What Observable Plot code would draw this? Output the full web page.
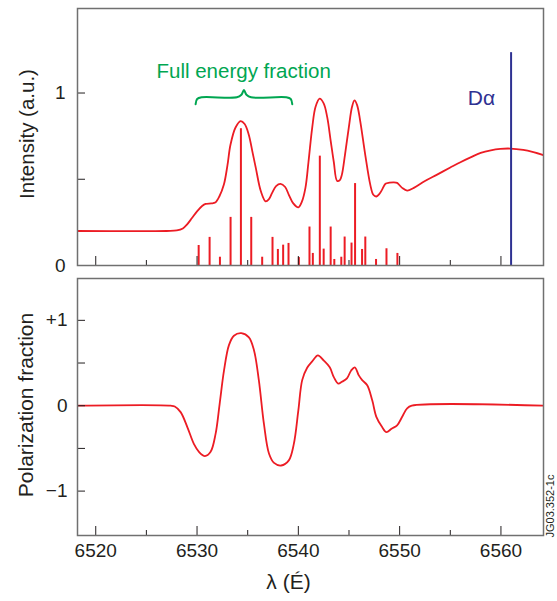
<!DOCTYPE html>
<html><head><meta charset="utf-8">
<script src="https://cdn.jsdelivr.net/npm/d3@7"></script>
<script src="https://cdn.jsdelivr.net/npm/@observablehq/plot@0.6"></script>
<style>
body{margin:0;background:#fff;}
#chart{width:557px;}
#chart svg{display:block;}
</style></head><body><div id="chart"></div>
<script>
// ---------- data ----------
const wavelengthDomain = [6518.2, 6564.2];
const xMajorTicks = [6520, 6530, 6540, 6550, 6560];
const xMinorTicks = [6525, 6535, 6545, 6555];
const intensityDomain = [0, 1.49];
const intensityTicks = [0.5, 1];
const intensityTickLabels = [0, 1];
const polarizationDomain = [-1.52, 1.49];
const polarizationTicks = [-1, -0.5, 0, 0.5, 1];
const polarizationTickLabels = [-1, 0, 1];

const intensityWl = [6518.2,6527.0,6528.0,6528.6,6529.0,6529.5,6530.0,6530.5,6530.85,6531.4,6531.8,6532.2,6532.65,6533.0,6533.3,6533.8,6534.3,6534.7,6535.1,6535.5,6535.8,6536.3,6536.77,6537.1,6537.4,6537.8,6538.24,6538.7,6539.06,6539.5,6540.0,6540.35,6540.7,6541.0,6541.37,6541.7,6542.1,6542.5,6542.85,6543.2,6543.5,6543.83,6544.1,6544.3,6544.6,6544.98,6545.3,6545.54,6545.8,6546.1,6546.6,6547.1,6547.4,6547.7,6548.0,6548.27,6548.6,6549.0,6549.4,6549.75,6550.0,6550.25,6550.74,6551.4,6552.5,6553.7,6555.0,6556.0,6557.0,6558.0,6559.0,6559.94,6560.9,6562.2,6563.2,6564.2];
const intensityVal = [0.20,0.20,0.203,0.215,0.237,0.275,0.314,0.345,0.357,0.360,0.365,0.40,0.469,0.58,0.70,0.80,0.837,0.82,0.76,0.65,0.566,0.43,0.372,0.385,0.42,0.46,0.473,0.455,0.41,0.36,0.337,0.37,0.45,0.60,0.80,0.92,0.967,0.94,0.86,0.72,0.60,0.49,0.495,0.527,0.64,0.80,0.92,0.957,0.93,0.84,0.643,0.469,0.41,0.40,0.415,0.44,0.474,0.48,0.482,0.479,0.465,0.45,0.434,0.45,0.49,0.527,0.568,0.599,0.627,0.653,0.668,0.676,0.678,0.67,0.657,0.64];

const stickWl = [6530.16,6531.24,6532.26,6533.31,6534.33,6535.35,6536.43,6537.45,6537.98,6538.5,6539.03,6540.05,6541.1,6541.43,6542.12,6542.5,6543.19,6543.55,6544.24,6544.57,6545.25,6545.6,6546.29,6546.61,6547.67,6548.7,6549.78];
const stickVal = [0.116,0.163,0.048,0.279,0.793,0.279,0.048,0.163,0.093,0.118,0.128,0.046,0.223,0.07,0.634,0.095,0.223,0.035,0.048,0.165,0.13,0.475,0.093,0.165,0.035,0.097,0.07];

const polWl = [6518.2,6527.4,6527.8,6528.38,6529.04,6529.7,6530.19,6530.78,6531.34,6531.83,6532.23,6532.66,6533.15,6533.64,6534.37,6535.12,6535.62,6536.1,6536.6,6537.1,6537.6,6538.3,6539.06,6539.55,6540.0,6540.38,6540.87,6541.37,6541.93,6542.5,6543.1,6543.5,6543.93,6544.3,6544.8,6545.2,6545.57,6545.97,6546.3,6546.8,6547.3,6547.7,6548.27,6548.7,6549.2,6549.75,6550.25,6550.74,6551.2,6564.2];
const polVal = [0,0,-0.01,-0.075,-0.25,-0.45,-0.54,-0.59,-0.54,-0.33,0.02,0.41,0.71,0.82,0.85,0.80,0.65,0.30,-0.21,-0.56,-0.67,-0.70,-0.64,-0.45,-0.055,0.30,0.445,0.52,0.59,0.53,0.45,0.335,0.26,0.28,0.32,0.41,0.45,0.355,0.30,0.24,0.06,-0.13,-0.25,-0.31,-0.27,-0.23,-0.13,-0.03,0,0];

const dAlphaWl = 6561.0;
const dAlphaTop = 1.234;
const dAlphaLabel = {text: "Dα", wl: 6558.07, y: 0.968};
const fullEnergyLabel = {text: "Full energy fraction", wl: 6534.6, y: 1.128};
const braceSpan = [6529.86, 6539.4];
const braceLevels = {end: 0.935, level: 0.975, tip: 1.017};

// ---------- styles ----------
const red = "#ec1c24", blue = "#2e3192", green = "#00a651", gray = "#707070", ink = "#231f20";
const font = "'Liberation Sans', Arial, Helvetica, sans-serif";
const W = 557, ML = 77, MR = 14;
const innerW = W - ML - MR;

const intensityData = intensityWl.map((wl, i) => ({wl, v: intensityVal[i]}));
const stickData = stickWl.map((wl, i) => ({wl, v: stickVal[i]}));
const polData = polWl.map((wl, i) => ({wl, v: polVal[i]}));

function bracePoints([x0, x1], {end, level, tip}) {
  const xm = (x0 + x1) / 2;
  return [
    [x0, end], [x0 + 0.15, level - 0.01], [x0 + 0.6, level], [xm - 0.7, level],
    [xm - 0.25, level + 0.015], [xm, tip], [xm + 0.25, level + 0.015], [xm + 0.7, level],
    [x1 - 0.6, level], [x1 - 0.15, level - 0.01], [x1, end]
  ].map(([x, y]) => ({x, y}));
}

const baseStyle = {fontFamily: font, fontSize: "19px", color: ink, background: "white", overflow: "visible"};

// ---------- top panel ----------
const topH = 270, topMT = 8, topMB = 5;
const topInnerH = topH - topMT - topMB;
const topPlot = Plot.plot({
  width: W, height: topH, marginTop: topMT, marginBottom: topMB, marginLeft: ML, marginRight: MR,
  style: baseStyle,
  x: {domain: wavelengthDomain, axis: null},
  y: {domain: intensityDomain, axis: null},
  marks: [
    Plot.ruleX(stickData, {x: "wl", y1: 0, y2: "v", stroke: red, strokeWidth: 2}),
    Plot.line(intensityData, {x: "wl", y: "v", stroke: red, strokeWidth: 1.8, curve: "catmull-rom", clip: true}),
    Plot.ruleX([dAlphaWl], {x: d => d, y1: 0, y2: dAlphaTop, stroke: blue, strokeWidth: 2}),
    Plot.text([dAlphaLabel], {x: "wl", y: "y", text: "text", fill: blue, fontSize: 21}),
    Plot.line(bracePoints(braceSpan, braceLevels), {x: "x", y: "y", stroke: green, strokeWidth: 2, curve: "catmull-rom"}),
    Plot.text([fullEnergyLabel], {x: "wl", y: "y", text: "text", fill: green, fontSize: 20.5}),
    Plot.ruleX(xMajorTicks, {x: d => d, insetTop: topInnerH - 9, stroke: ink, strokeWidth: 1}),
    Plot.ruleX(xMinorTicks, {x: d => d, insetTop: topInnerH - 5, stroke: ink, strokeWidth: 1}),
    Plot.ruleY(intensityTicks, {y: d => d, insetRight: innerW - 8, stroke: ink, strokeWidth: 1}),
    Plot.axisY(intensityTickLabels, {tickSize: 0, tickPadding: 12, tickFormat: d => String(d), fontSize: 19, fill: ink, label: null}),
    Plot.text(["Intensity (a.u.)"], {frameAnchor: "left", rotate: -90, textAnchor: "middle", lineAnchor: "middle", dx: -50, dy: -3, fontSize: 20.5, fill: ink}),
    Plot.frame({stroke: gray, strokeWidth: 1.5})
  ]
});

// ---------- bottom panel ----------
const botH = 331, botMT = 8, botMB = 66;
const botInnerH = botH - botMT - botMB;
const signFmt = d => d > 0 ? "+" + d : d < 0 ? "\u2212" + Math.abs(d) : "0";
const botPlot = Plot.plot({
  width: W, height: botH, marginTop: botMT, marginBottom: botMB, marginLeft: ML, marginRight: MR,
  style: baseStyle,
  x: {domain: wavelengthDomain, axis: null},
  y: {domain: polarizationDomain, axis: null},
  marks: [
    Plot.line(polData, {x: "wl", y: "v", stroke: red, strokeWidth: 1.8, curve: "catmull-rom", clip: true}),
    Plot.ruleX(xMajorTicks, {x: d => d, insetTop: botInnerH - 9, stroke: ink, strokeWidth: 1}),
    Plot.ruleX(xMinorTicks, {x: d => d, insetTop: botInnerH - 5, stroke: ink, strokeWidth: 1}),
    Plot.ruleY(polarizationTicks, {y: d => d, insetRight: innerW - 8, stroke: ink, strokeWidth: 1}),
    Plot.axisY(polarizationTickLabels, {tickSize: 0, tickPadding: 10, tickFormat: signFmt, fontSize: 19, fill: ink, label: null}),
    Plot.axisX(xMajorTicks, {tickSize: 0, tickPadding: 8, tickFormat: d => String(d), fontSize: 19, fill: ink, label: null}),
    Plot.text(["Polarization fraction"], {frameAnchor: "left", rotate: -90, textAnchor: "middle", lineAnchor: "middle", dx: -51, dy: -2, fontSize: 21, fill: ink}),
    Plot.text(["λ (É)"], {frameAnchor: "bottom", textAnchor: "middle", lineAnchor: "middle", dx: -22, dy: 47, fontSize: 21, fill: ink}),
    Plot.text(["JG03.352-1c"], {frameAnchor: "bottom-right", rotate: -90, textAnchor: "start", lineAnchor: "middle", dx: 7, dy: 2, fontSize: 11, fill: ink}),
    Plot.frame({stroke: gray, strokeWidth: 1.5})
  ]
});

document.getElementById("chart").append(topPlot, botPlot);
</script>
</body></html>
